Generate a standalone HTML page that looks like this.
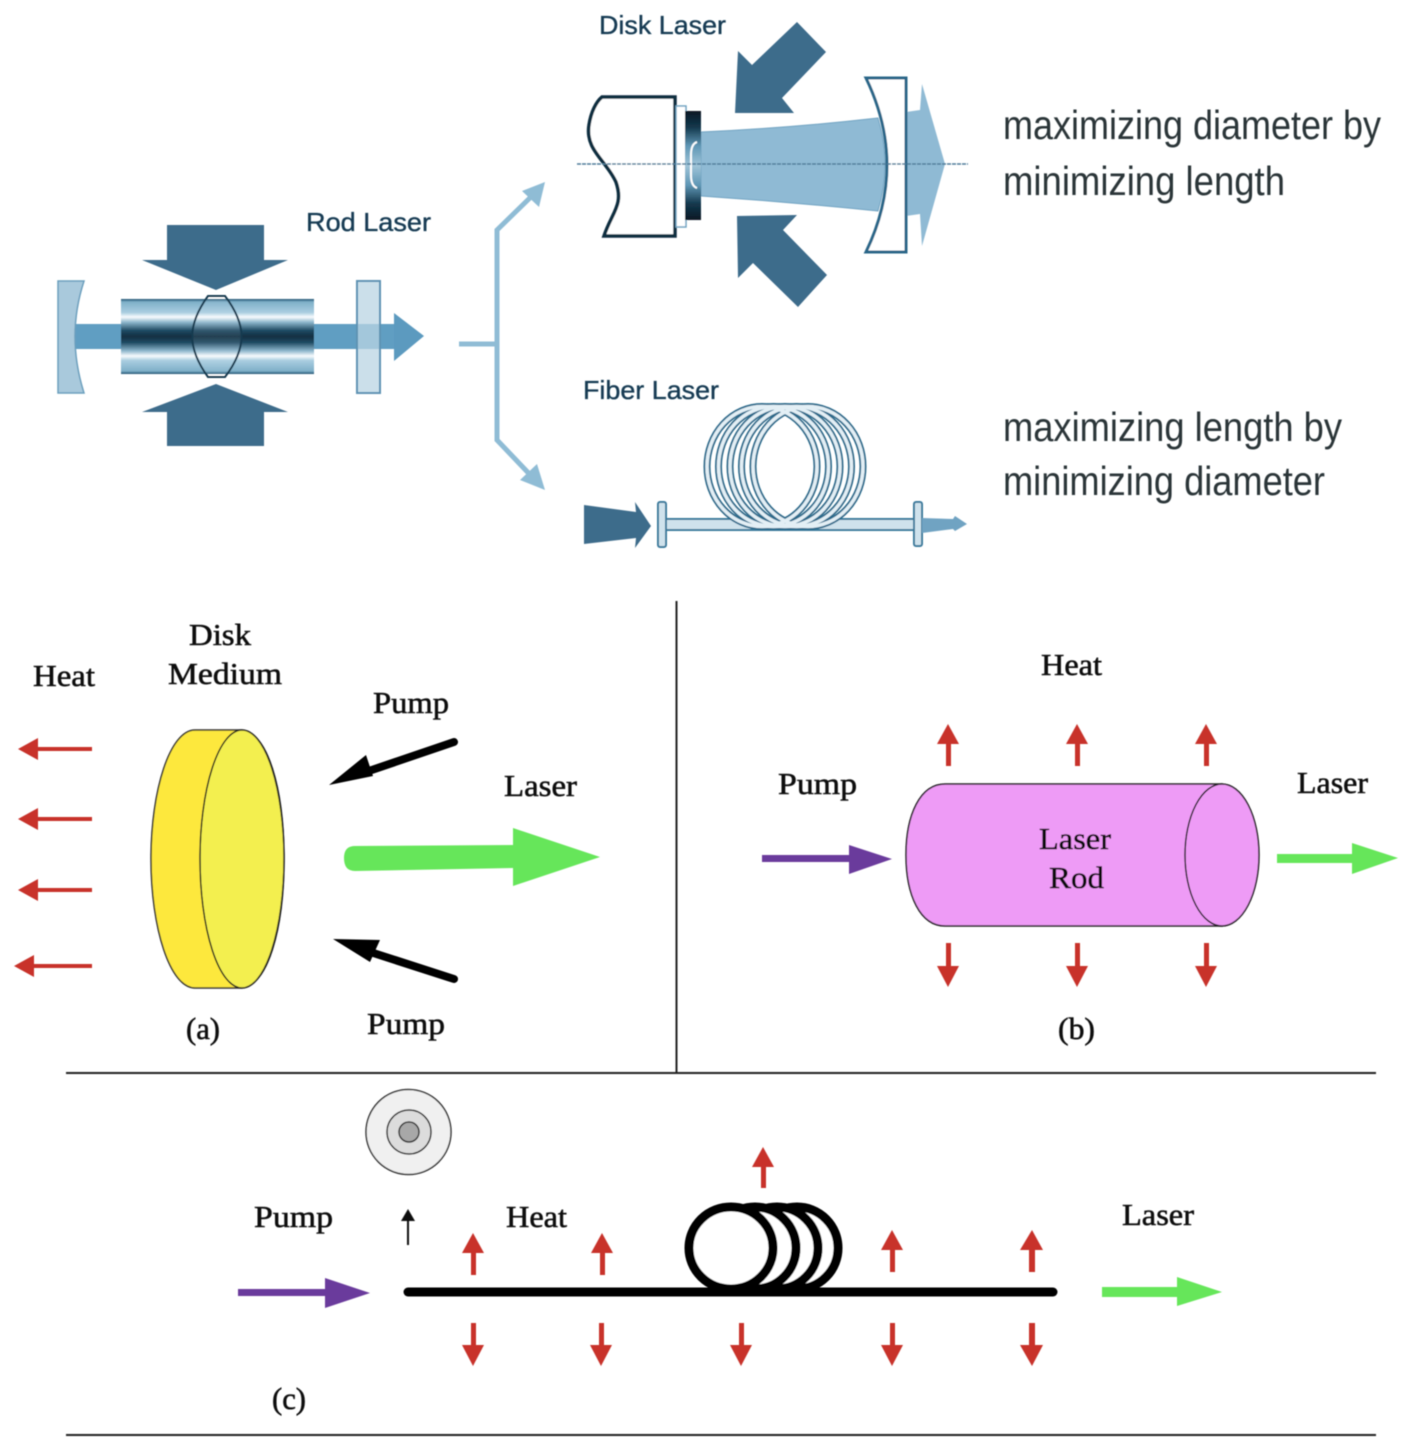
<!DOCTYPE html>
<html><head><meta charset="utf-8"><style>html,body{margin:0;padding:0;background:#fff}svg{display:block}
.s{font-family:"Liberation Serif",serif;font-size:31px;fill:#111;stroke:#111;stroke-width:.55px;transform:translateY(-1px)}
.b{font-family:"Liberation Sans",sans-serif;font-size:26px;fill:#133a52;stroke:#133a52;stroke-width:.35px}
.t{font-family:"Liberation Sans",sans-serif;font-size:41px;fill:#2a3438;transform:translateY(-1px)}
</style></head><body>
<svg xmlns="http://www.w3.org/2000/svg" width="1410" height="1448" viewBox="0 0 1410 1448">
<defs>
<linearGradient id="rod" x1="0" y1="0" x2="0" y2="1">
<stop offset="0" stop-color="#1f5270"/><stop offset=".04" stop-color="#7fb0c9"/><stop offset=".18" stop-color="#a9cde0"/><stop offset=".24" stop-color="#f8fbfd"/><stop offset=".31" stop-color="#8db6cc"/><stop offset=".42" stop-color="#204a63"/><stop offset=".5" stop-color="#122f42"/><stop offset=".58" stop-color="#204a63"/><stop offset=".69" stop-color="#8db6cc"/><stop offset=".76" stop-color="#f8fbfd"/><stop offset=".82" stop-color="#a9cde0"/><stop offset=".96" stop-color="#7fb0c9"/><stop offset="1" stop-color="#1f5270"/>
</linearGradient>
<linearGradient id="dk" x1="0" y1="0" x2="0" y2="1"><stop offset="0" stop-color="#071824"/><stop offset=".15" stop-color="#14384d"/><stop offset=".32" stop-color="#5f97b5"/><stop offset=".5" stop-color="#9fc4d8"/><stop offset=".68" stop-color="#5f97b5"/><stop offset=".85" stop-color="#14384d"/><stop offset="1" stop-color="#071824"/></linearGradient>
<filter id="bl"><feGaussianBlur stdDeviation="0.5"/></filter>
</defs>
<g filter="url(#bl)">
<!-- Rod laser -->
<rect x="75" y="324" width="320" height="25" fill="#619ec2"/>
<path d="M394,313 L424,336 L394,361Z" fill="#5b9abf"/>
<path d="M58,281 L84,281 Q66,336 84,393 L58,393Z" fill="#a9c9dc" stroke="#6b9fbd" stroke-width="1.5"/>
<rect x="357" y="281" width="23" height="112" fill="#b9d4e3" fill-opacity=".75" stroke="#5d93b3" stroke-width="2"/>
<rect x="121" y="299" width="193" height="75" fill="url(#rod)"/>
<path d="M208,296 L225,296 C247,325 247,348 225,377 L208,377 C187,348 187,325 208,296Z" fill="#fff" fill-opacity=".08" stroke="#173a50" stroke-width="2"/>
<path d="M167,225 H264 V260 H288 L216,290 L142,260 H167Z" fill="#3e6c8b"/>
<path d="M216,384 L288,412 H264 V446 H167 V412 H142Z" fill="#3e6c8b"/>
<text class="b" x="306" y="231" textLength="125" lengthAdjust="spacingAndGlyphs">Rod Laser</text>
<!-- branch -->
<g fill="none" stroke="#8fbcd5" stroke-width="5"><path d="M459,344 H497"/><path d="M537,191 L497,230 V440 L537,482"/></g>
<path d="M545,182 L539,207 L522,191Z M545,490 L520,480 L537,464Z" fill="#8fbcd5"/>
<!-- Disk laser -->
<path d="M906,112 L920,110 L922,84 L945,164 L922,246 L920,214 L906,216Z" fill="#8fbad4"/>
<path d="M701,132 Q790,128 878,118 Q892,165 878,211 Q790,202 701,196Z" fill="#8fbad4" stroke="#6fa3c2"/>
<path d="M866,78 H906 V252 H866 Q908,165 866,78Z" fill="#fff" stroke="#2a6688" stroke-width="3"/>
<path d="M602,97 H675 V236 H604 C612,212 624,205 616,182 C606,160 585,150 589,125 C591,112 596,102 602,97Z" fill="#fff" stroke="#0f2d40" stroke-width="3.500"/>
<rect x="676" y="106" width="10" height="121" fill="#fff" stroke="#6fa3c2" stroke-width="1.500"/>
<rect x="685" y="111" width="16" height="109" fill="url(#dk)"/>
<path d="M697,142 Q691,144 691,155 V175 Q691,186 697,188" fill="none" stroke="#fff" stroke-width="2"/>
<path d="M577,164 H968" stroke="#4f7d9a" stroke-width="1.400" stroke-dasharray="4 1" fill="none"/>
<path d="M797,22 L826,52 L782,98 L794,113 H735 L738,51 L752,65Z" fill="#3e6c8b"/>
<path d="M737,216 L797,215 L783,230 L827,275 L798,307 L753,263 L738,278Z" fill="#3e6c8b"/>
<text class="b" x="599" y="34" textLength="127" lengthAdjust="spacingAndGlyphs">Disk Laser</text>
<!-- Fiber laser -->
<rect x="665" y="519" width="250" height="11" fill="#cfe2ec" stroke="#3b7a9c" stroke-width="2"/>
<g fill="none">
<g stroke="#2c6a8b" stroke-width="7"><ellipse cx="762" cy="466.500" rx="55" ry="60"/><ellipse cx="773.500" cy="466.500" rx="55" ry="60"/><ellipse cx="785" cy="466.500" rx="55" ry="60"/><ellipse cx="796.500" cy="466.500" rx="55" ry="60"/><ellipse cx="808" cy="466.500" rx="55" ry="60"/></g>
<g stroke="#e3eff5" stroke-width="3.500"><ellipse cx="762" cy="466.500" rx="55" ry="60"/><ellipse cx="773.500" cy="466.500" rx="55" ry="60"/><ellipse cx="785" cy="466.500" rx="55" ry="60"/><ellipse cx="796.500" cy="466.500" rx="55" ry="60"/><ellipse cx="808" cy="466.500" rx="55" ry="60"/></g>
</g>
<rect x="658" y="502" width="8" height="45" rx="2" fill="#cfe2ec" stroke="#3b7a9c" stroke-width="2"/>
<rect x="914" y="502" width="8" height="44" rx="2" fill="#cfe2ec" stroke="#3b7a9c" stroke-width="2"/>
<path d="M584,505 L636,512 L635,502 L651,526 L635,548 L636,538 L584,544Z" fill="#3e6c8b"/>
<path d="M922,518 L953,519 L955,516 L967,524 L955,531 L953,529 L922,533Z" fill="#6fa3c2"/>
<text class="b" x="583" y="399" textLength="136" lengthAdjust="spacingAndGlyphs">Fiber Laser</text>
<!-- Right text -->
<text class="t" x="1003" y="140" textLength="378" lengthAdjust="spacingAndGlyphs">maximizing diameter by</text>
<text class="t" x="1003" y="196" textLength="282" lengthAdjust="spacingAndGlyphs">minimizing length</text>
<text class="t" x="1003" y="442" textLength="339" lengthAdjust="spacingAndGlyphs">maximizing length by</text>
<text class="t" x="1003" y="496" textLength="322" lengthAdjust="spacingAndGlyphs">minimizing diameter</text>
<!-- Dividers -->
<g stroke="#222" stroke-width="2" fill="none"><path d="M676.500,601 V1072"/><path d="M66,1073 H1376"/><path d="M66,1435 H1376"/></g>
<!-- (a) -->
<path d="M195,730 H240 C268,730 284,790 284,859 C284,928 268,988 240,988 H195 C170,988 151,928 151,859 C151,790 170,730 195,730Z" fill="#fde83c" stroke="#333" stroke-width="1.500"/>
<ellipse cx="242" cy="859" rx="42" ry="129" fill="#f3ef50" stroke="#222" stroke-width="1.500"/>
<g fill="#c8322a" stroke="none">
<path d="M92,747 H38 V738 L18,749 L38,760 V751 H92Z"/>
<path d="M92,817 H38 V808 L18,819 L38,830 V821 H92Z"/>
<path d="M92,888 H38 V879 L18,890 L38,901 V892 H92Z"/>
<path d="M92,964 H34 V955 L14,966 L34,977 V968 H92Z"/>
</g>
<path d="M454,742 L360,774" stroke="#000" stroke-width="8" stroke-linecap="round"/>
<path d="M329,785 L366,755 L373,776Z" fill="#000"/>
<path d="M454,979 L364,950" stroke="#000" stroke-width="8" stroke-linecap="round"/>
<path d="M333,939 L380,940 L370,962Z" fill="#000"/>
<path d="M355,846 L513,845 V828 L600,857 L513,886 V868 L355,871 Q344,871 344,858 Q344,846 355,846Z" fill="#66e65a"/>
<text class="s" x="33" y="687" textLength="62" lengthAdjust="spacingAndGlyphs">Heat</text>
<text class="s" x="189" y="646" textLength="62" lengthAdjust="spacingAndGlyphs">Disk</text>
<text class="s" x="168" y="685" textLength="114" lengthAdjust="spacingAndGlyphs">Medium</text>
<text class="s" x="373" y="714" textLength="76" lengthAdjust="spacingAndGlyphs">Pump</text>
<text class="s" x="504" y="797" textLength="73" lengthAdjust="spacingAndGlyphs">Laser</text>
<text class="s" x="367" y="1035" textLength="78" lengthAdjust="spacingAndGlyphs">Pump</text>
<text class="s" x="186" y="1040" textLength="34" lengthAdjust="spacingAndGlyphs">(a)</text>
<!-- (b) -->
<path d="M945,784 H1222 L1222,926 H945 C920,926 906,895 906,855 C906,815 920,784 945,784Z" fill="#ee9bf6" stroke="#222" stroke-width="1.500"/>
<ellipse cx="1222" cy="855" rx="37" ry="71" fill="#ee9bf6" stroke="#222" stroke-width="1.500"/>
<path d="M762,855 H849 V845 L892,859 L849,874 V862 H762Z" fill="#6b3a9c"/>
<path d="M1277,854 H1352 V843 L1398,858 L1352,874 V863 H1277Z" fill="#66e65a"/>
<g fill="#c8322a">
<path d="M946,766 V744 H937 L948,724 L959,744 H951 V766Z"/>
<path d="M1075,766 V744 H1066 L1077,724 L1088,744 H1080 V766Z"/>
<path d="M1204,766 V744 H1195 L1206,724 L1217,744 H1209 V766Z"/>
<path d="M946,943 V966 H937 L948,987 L959,966 H951 V943Z"/>
<path d="M1075,943 V966 H1066 L1077,987 L1088,966 H1080 V943Z"/>
<path d="M1204,943 V966 H1195 L1206,987 L1217,966 H1209 V943Z"/>
</g>
<text class="s" x="1041" y="676" textLength="61" lengthAdjust="spacingAndGlyphs">Heat</text>
<text class="s" x="778" y="795" textLength="79" lengthAdjust="spacingAndGlyphs">Pump</text>
<text class="s" x="1297" y="794" textLength="71" lengthAdjust="spacingAndGlyphs">Laser</text>
<text class="s" x="1039" y="850" textLength="72" lengthAdjust="spacingAndGlyphs">Laser</text>
<text class="s" x="1049" y="889" textLength="55" lengthAdjust="spacingAndGlyphs">Rod</text>
<text class="s" x="1058" y="1040" textLength="37" lengthAdjust="spacingAndGlyphs">(b)</text>
<!-- (c) -->
<circle cx="408.500" cy="1132" r="42.500" fill="#f0f0f0" stroke="#333" stroke-width="1.500"/>
<circle cx="409" cy="1132" r="22" fill="#dcdcdc" stroke="#333" stroke-width="1.500"/>
<circle cx="409" cy="1132" r="10" fill="#a8a8a8" stroke="#333" stroke-width="1.500"/>
<path d="M408,1245 V1218" stroke="#111" stroke-width="2"/><path d="M401,1221 L408,1209 L415,1221Z" fill="#111"/>
<path d="M238,1289 H325 V1278 L370,1293 L325,1308 V1296 H238Z" fill="#6b3a9c"/>
<g fill="#fff" stroke="#000" stroke-width="9">
<ellipse cx="797" cy="1248" rx="41" ry="41"/>
<ellipse cx="777" cy="1248" rx="41" ry="41"/>
<ellipse cx="755" cy="1248" rx="41" ry="41"/>
<ellipse cx="731" cy="1248" rx="42" ry="41"/>
</g>
<path d="M408,1292 H1053" stroke="#000" stroke-width="9" stroke-linecap="round"/>
<path d="M1102,1287 H1177 V1277 L1222,1292 L1177,1306 V1297 H1102Z" fill="#66e65a"/>
<g fill="#c8322a">
<path d="M471,1275 V1253 H462 L473,1233 L484,1253 H476 V1275Z"/>
<path d="M600,1275 V1253 H591 L602,1233 L613,1253 H605 V1275Z"/>
<path d="M890,1272 V1250 H881 L892,1230 L903,1250 H895 V1272Z"/>
<path d="M1029,1272 V1250 H1020 L1032,1230 L1043,1250 H1035 V1272Z"/>
<path d="M761,1188 V1167 H752 L763,1147 L774,1167 H766 V1188Z"/>
<path d="M471,1323 V1345 H462 L473,1366 L484,1345 H476 V1323Z"/>
<path d="M599,1323 V1345 H590 L601,1366 L612,1345 H604 V1323Z"/>
<path d="M739,1323 V1345 H730 L741,1366 L752,1345 H744 V1323Z"/>
<path d="M890,1323 V1345 H881 L892,1366 L903,1345 H895 V1323Z"/>
<path d="M1029,1323 V1345 H1020 L1032,1366 L1043,1345 H1035 V1323Z"/>
</g>
<text class="s" x="254" y="1228" textLength="79" lengthAdjust="spacingAndGlyphs">Pump</text>
<text class="s" x="506" y="1228" textLength="61" lengthAdjust="spacingAndGlyphs">Heat</text>
<text class="s" x="1122" y="1226" textLength="72" lengthAdjust="spacingAndGlyphs">Laser</text>
<text class="s" x="272" y="1410" textLength="34" lengthAdjust="spacingAndGlyphs">(c)</text>
</g>
</svg>
</body></html>
